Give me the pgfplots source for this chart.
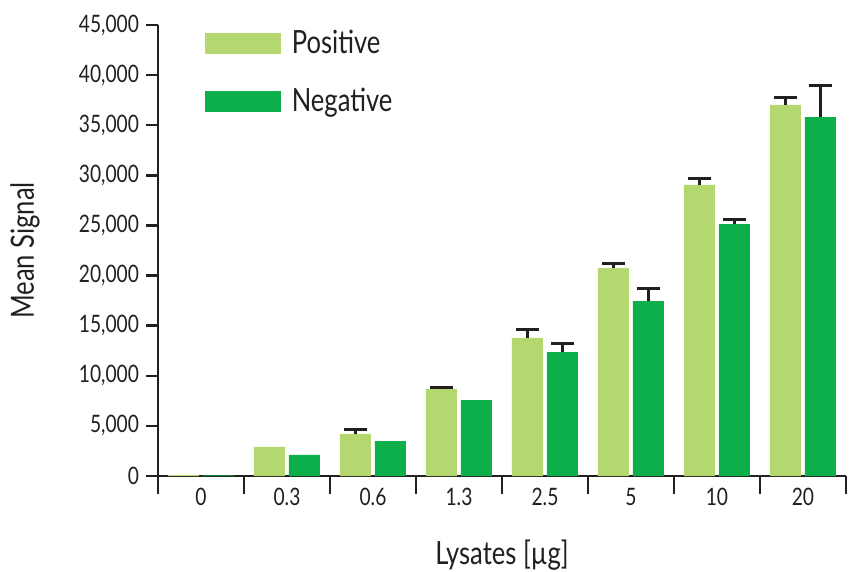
\documentclass[border=0pt]{standalone}
\usepackage{pgfplots}
\pgfplotsset{compat=1.18}
\usepackage{pgfplotstable}
\usepackage{fontspec}
\setmainfont{Lato}[FakeStretch=0.8]
\definecolor{lightg}{RGB}{181,215,112}
\definecolor{darkg}{RGB}{13,175,75}
\definecolor{axisk}{RGB}{35,31,32}

% x  value  err
\pgfplotstableread{
x y e
0 80 0
1 2900 0
2 4200 420
3 8680 200
4 13770 870
5 20750 470
6 29040 690
7 37020 700
}\postab
\pgfplotstableread{
x y e
0 60 0
1 2100 0
2 3490 0
3 7580 0
4 12370 870
5 17460 1230
6 25140 500
7 35820 3190
}\negtab

\begin{document}
\begin{tikzpicture}
\begin{axis}[
  name=ax,
  scale only axis,
  width=344pt, height=225.5pt,
  ybar, bar width=15.5pt,
  xmin=-0.5, xmax=7.5,
  ymin=0, ymax=45000,
  axis x line*=bottom, axis y line*=left,
  axis line style={axisk, line width=1.2pt, -},
  xtick={0,...,7},
  xticklabels={0,0.3,0.6,1.3,2.5,5,10,20},
  minor xtick={-0.5,0.5,...,7.5},
  major x tick style={draw=none},
  minor x tick style={axisk, line width=1.2pt},
  minor tick length=9pt,
  ytick={0,5000,...,45000},
  y tick style={axisk, line width=1.2pt},
  major tick length=6pt,
  tick align=outside,
  scaled y ticks=false,
  /pgf/number format/fixed,
  /pgf/number format/1000 sep={,},
  /pgf/number format/assume math mode=true,
  yticklabel style={font=\fontsize{12}{12}\selectfont, text=axisk},
  xticklabel style={font=\fontsize{12}{12}\selectfont, text=axisk, yshift=3.5pt},
  xlabel={Lysates [µg]},
  ylabel={Mean Signal},
  every axis x label/.style={at={(axis description cs:0.5,0)}, yshift=-39.5pt, anchor=center, font=\fontsize{16}{16}\selectfont, text=axisk},
  every axis y label/.style={at={(axis description cs:0,0.5)}, xshift=-66.5pt, rotate=90, anchor=center, font=\fontsize{16}{16}\selectfont, text=axisk},
  legend style={at={(axis description cs:0,1)}, anchor=north west, xshift=20.5pt, yshift=1.5pt,
    draw=none, fill=none, font=\fontsize{16}{16}\selectfont, text=axisk, row sep=11.5pt},
  legend cell align=left,
]
\addlegendimage{legend image code/.code={\path[draw=none, fill=none] (0pt,0pt) rectangle (41pt,0pt); \fill[lightg] (0pt,-5pt) rectangle (37.5pt,5pt);}}
\addlegendentry{Positive}
\addlegendimage{legend image code/.code={\path[draw=none, fill=none] (0pt,0pt) rectangle (41pt,0pt); \fill[darkg] (0pt,-5pt) rectangle (37.5pt,5pt);}}
\addlegendentry{Negative}
% bars
\addplot[bar shift=-8.75pt, fill=lightg, draw=none, forget plot] table[x=x, y=y] {\postab};
\addplot[bar shift=8.75pt, fill=darkg, draw=none, forget plot] table[x=x, y=y] {\negtab};
% error bars, only where an error is shown
\addplot[bar shift=-8.75pt, fill=none, draw=none, forget plot, skip coords between index={0}{2},
  error bars/.cd, y dir=plus, y explicit,
  error bar style={axisk, line width=1.5pt},
  error mark options={rotate=90, mark size=5.75pt, line width=1.5pt, axisk}]
  table[x=x, y=y, y error=e] {\postab};
\addplot[bar shift=8.75pt, fill=none, draw=none, forget plot, skip coords between index={0}{4},
  error bars/.cd, y dir=plus, y explicit,
  error bar style={axisk, line width=1.5pt},
  error mark options={rotate=90, mark size=5.75pt, line width=1.5pt, axisk}]
  table[x=x, y=y, y error=e] {\negtab};
\end{axis}
\pgfresetboundingbox
\path ([xshift=-79pt, yshift=-48pt]ax.south west) rectangle ([xshift=2pt, yshift=12.5pt]ax.north east);
\end{tikzpicture}
\end{document}
